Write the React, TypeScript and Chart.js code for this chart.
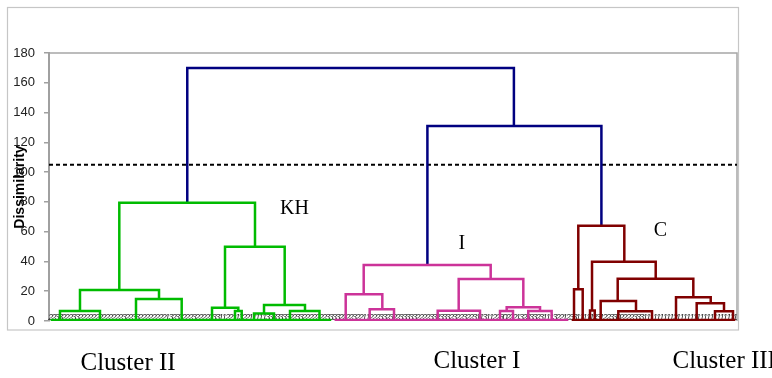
import React, { useEffect, useRef } from "react";
import { Chart, registerables } from "chart.js";

Chart.register(...registerables);

// ---- data ----
const yMin = 0;
const yMax = 180;
const yStep = 20;
const leafCount = 206;
const cutHeight = 105;

// each link: [xLeft, xRight, mergeHeight, leftChildHeight, rightChildHeight] (x in leaf units)
const rootLinks: number[][] = [
  [41.4, 139.2, 170, 79.4, 131],
  [113.3, 165.4, 131, 37.6, 64.0],
];

const clusterIILinks: number[][] = [
  [21.05, 61.68, 79.4, 20.8, 49.9],
  [9.28, 32.94, 20.8, 6.7, 14.8],
  [3.29, 15.27, 6.7, 0, 0],
  [26.05, 39.73, 14.8, 0, 0],
  [52.7, 70.57, 49.9, 8.9, 10.7],
  [48.81, 56.68, 8.9, 0, 6.7],
  [55.69, 57.7, 6.7, 0, 0],
  [64.38, 76.65, 10.7, 5.0, 6.7],
  [61.38, 67.37, 5.0, 0, 0],
  [72.16, 80.99, 6.7, 0, 0],
];

const clusterILinks: number[][] = [
  [94.23, 132.25, 37.6, 17.9, 28.2],
  [88.84, 99.8, 17.9, 0, 7.9],
  [96.02, 103.3, 7.9, 0, 0],
  [122.67, 142.02, 28.2, 6.9, 9.2],
  [116.38, 129.05, 6.9, 0, 0],
  [137.04, 147.02, 9.2, 6.7, 6.7],
  [135.04, 138.93, 6.7, 0, 0],
  [143.5, 150.5, 6.7, 0, 0],
];

const clusterIIILinks: number[][] = [
  [158.48, 172.26, 64.0, 21.3, 39.8],
  [157.2, 159.8, 21.3, 0, 0],
  [162.59, 181.66, 39.8, 7.0, 28.4],
  [161.99, 163.4, 7.0, 0, 0],
  [170.28, 192.92, 28.4, 13.4, 16.0],
  [165.19, 175.76, 13.4, 0, 6.5],
  [170.46, 180.55, 6.5, 0, 0],
  [187.74, 198.13, 16.0, 0, 11.9],
  [193.93, 202.11, 11.9, 0, 6.5],
  [199.41, 204.8, 6.5, 0, 0],
];

// low-level merges forming the coloured base of each cluster: [firstLeaf, lastLeaf, height]
const clusterIIBase = [0.5, 84.5, 0.6];
const clusterIBase = [85.5, 155.5, 0.6];
const clusterIIIBase = [156.5, 205.5, 0.6];

// leaf labels (class of each observation)
const clusterIILeafLabels =
  "2233222332" + "2222222222" + "2232233222" + "2222213233" + "2223222223" +
  "3112211322" + "1111133333" + "3322332222" + "22233";
const clusterILeafLabels =
  "3322223221" + "1222332322" + "3333322223" + "3233323223" + "2231131122" +
  "3022213233" + "32311132212";
const clusterIIILeafLabels =
  "3311111231" + "2233022223" + "3311111111" + "1211111111" + "1111111111";

const groupLabels = ["KH", "I", "C"];
const clusterNames = ["Cluster II", "Cluster I", "Cluster III"];
const axisTitle = "Dissimilarity";

// ---- helpers ----
function linksToPoints(links: number[][], base?: number[]) {
  const pts: { x: number; y: number | null }[] = [];
  if (base) {
    pts.push({ x: base[0], y: base[2] }, { x: base[1], y: base[2] }, { x: base[1], y: null });
  }
  for (const [xl, xr, h, hl, hr] of links) {
    pts.push({ x: xl, y: hl }, { x: xl, y: h }, { x: xr, y: h }, { x: xr, y: hr }, { x: xr, y: null });
  }
  return pts;
}

const leafLabels = (clusterIILeafLabels + clusterILeafLabels + clusterIIILeafLabels).split("");

const deco = {
  id: "deco",
  beforeDraw(chart: any) {
    const ctx = chart.ctx;
    const a = chart.chartArea;
    ctx.save();
    ctx.strokeStyle = "#c6c6c6";
    ctx.lineWidth = 1.2;
    ctx.strokeRect(7.5, 7.5, 731, 322.5);
    ctx.strokeStyle = "#a6a6a6";
    ctx.lineWidth = 1.5;
    ctx.beginPath();
    ctx.moveTo(a.left, a.top);
    ctx.lineTo(a.right, a.top);
    ctx.lineTo(a.right, a.bottom);
    ctx.stroke();
    ctx.restore();
  },
  beforeDatasetsDraw(chart: any) {
    const ctx = chart.ctx;
    const xs = chart.scales.x;
    const a = chart.chartArea;
    ctx.save();
    ctx.font = "italic 9px 'Liberation Sans'";
    ctx.fillStyle = "#2a2a2a";
    ctx.textAlign = "center";
    ctx.textBaseline = "bottom";
    leafLabels.forEach((ch, i) => {
      ctx.fillText(ch, xs.getPixelForValue(i + 0.5), a.bottom + 0.5);
    });
    ctx.restore();
  },
  afterDraw(chart: any) {
    const ctx = chart.ctx;
    const xs = chart.scales.x;
    const ys = chart.scales.y;
    ctx.save();
    ctx.fillStyle = "#000";
    ctx.textBaseline = "alphabetic";
    ctx.textAlign = "center";
    ctx.font = "20px 'Liberation Serif'";
    ctx.fillText(groupLabels[0], xs.getPixelForValue(73.5), ys.getPixelForValue(72));
    ctx.fillText(groupLabels[1], xs.getPixelForValue(123.6), ys.getPixelForValue(48.5));
    ctx.fillText(groupLabels[2], xs.getPixelForValue(183.1), ys.getPixelForValue(56.8));
    ctx.font = "25px 'Liberation Serif'";
    ctx.textAlign = "left";
    ctx.fillText(clusterNames[0], 80.5, 370);
    ctx.fillText(clusterNames[1], 433.5, 367.5);
    ctx.fillText(clusterNames[2], 672.5, 367.5);
    ctx.restore();
  },
};

export default function App() {
  const ref = useRef<HTMLCanvasElement | null>(null);
  useEffect(() => {
    if (!ref.current) return;
    const line = (data: any[], color: string, extra: any = {}) => ({
      data,
      borderColor: color,
      backgroundColor: color,
      borderWidth: 2.5,
      pointRadius: 0,
      tension: 0,
      spanGaps: false,
      borderJoinStyle: "miter",
      borderCapStyle: "butt",
      fill: false,
      ...extra,
    });
    const chart = new Chart(ref.current, {
      type: "line",
      data: {
        datasets: [
          line(linksToPoints(clusterIILinks, clusterIIBase), "#00bb00"),
          line(linksToPoints(clusterILinks, clusterIBase), "#cc3399"),
          line(linksToPoints(clusterIIILinks, clusterIIIBase), "#800000"),
          line(linksToPoints(rootLinks), "#000080"),
          line(
            [
              { x: 0, y: cutHeight },
              { x: leafCount, y: cutHeight },
            ],
            "#000000",
            { borderDash: [4, 3], borderWidth: 2 }
          ),
        ],
      },
      options: {
        responsive: false,
        animation: false,
        layout: { padding: { left: 0, top: 53, right: 35, bottom: 57 } },
        plugins: { legend: { display: false }, tooltip: { enabled: false } },
        scales: {
          x: { type: "linear", min: 0, max: leafCount, display: false },
          y: {
            type: "linear",
            min: yMin,
            max: yMax,
            ticks: {
              stepSize: yStep,
              padding: 9,
              color: "#222",
              font: { family: "'Liberation Sans'", size: 13 },
            },
            grid: {
              drawOnChartArea: false,
              drawTicks: true,
              tickLength: 5,
              color: "#a0a0a0",
              lineWidth: 1.5,
            },
            border: { display: true, color: "#a0a0a0", width: 2 },
            title: {
              display: true,
              text: axisTitle,
              color: "#000",
              font: { family: "'Liberation Sans'", size: 14, weight: "bold" },
              padding: { top: 12, bottom: 0 },
            },
            afterFit: (scale: any) => {
              scale.width = 49;
            },
          },
        },
      },
      plugins: [deco],
    } as any);
    return () => chart.destroy();
  }, []);
  return (
    <div style={{ position: "fixed", left: 0, top: 0, width: 772, height: 378, background: "#fff" }}>
      <canvas ref={ref} width={772} height={378} style={{ width: 772, height: 378, display: "block" }} />
    </div>
  );
}
